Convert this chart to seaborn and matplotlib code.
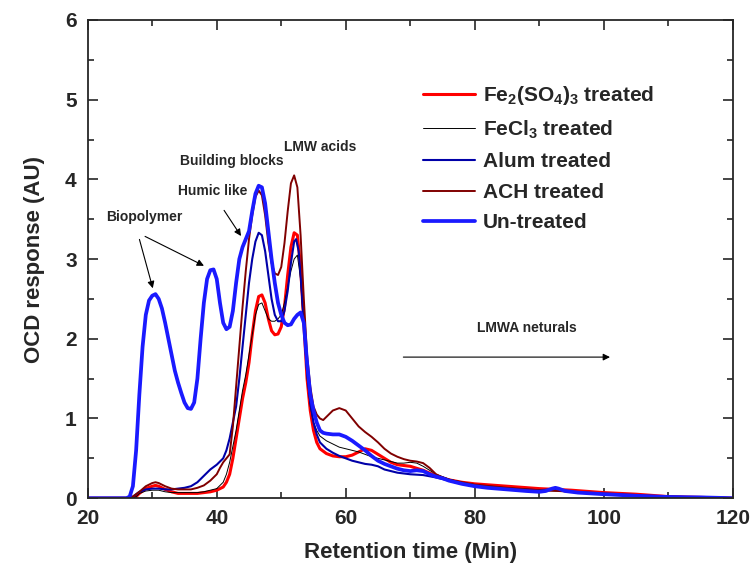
import numpy as np
import pandas as pd
import matplotlib
matplotlib.use("Agg")
import matplotlib.pyplot as plt
import seaborn as sns
from matplotlib.ticker import MultipleLocator

# Retention time (min) / OCD response (AU)
x_fe2 = [20, 27, 27.5, 28, 29, 30, 30.5, 31, 32, 33, 34, 35, 36, 37, 38, 39, 40, 41, 41.5, 42, 42.5, 43, 43.5, 44, 44.5,
         45, 45.5, 46, 46.5, 47, 47.5, 48, 48.5, 49, 49.5, 50, 50.5, 51, 51.5, 52, 52.5, 53, 53.5, 54, 54.5, 55, 55.5,
         56, 57, 58, 59, 60, 61, 62, 63, 64, 65, 66, 67, 68, 70, 72, 74, 76, 78, 80, 85, 90, 95, 100, 105, 110, 115, 120]
y_fe2 = [0, 0, 0.02, 0.06, 0.12, 0.15, 0.16, 0.15, 0.11, 0.08, 0.06, 0.06, 0.06, 0.06, 0.07, 0.08, 0.1, 0.14, 0.2, 0.3,
         0.5, 0.75, 1.0, 1.25, 1.45, 1.7, 2.05, 2.35, 2.53, 2.55, 2.45, 2.25, 2.1, 2.05, 2.06, 2.15, 2.4, 2.8, 3.15, 3.33,
         3.3, 2.9, 2.2, 1.5, 1.1, 0.85, 0.7, 0.62, 0.56, 0.53, 0.52, 0.52, 0.54, 0.58, 0.62, 0.6, 0.55, 0.5, 0.45, 0.42,
         0.4, 0.35, 0.28, 0.23, 0.2, 0.18, 0.15, 0.12, 0.1, 0.07, 0.05, 0.02, 0.01, 0.0]

x_fecl3 = [20, 27, 27.5, 28, 29, 30, 31, 32, 33, 34, 35, 36, 37, 38, 39, 40, 41, 41.5, 42, 42.5, 43, 43.5, 44, 44.5, 45,
           45.5, 46, 46.5, 47, 47.5, 48, 48.5, 49, 49.5, 50, 50.5, 51, 51.5, 52, 52.5, 53, 53.5, 54, 54.5, 55, 55.5, 56,
           57, 58, 59, 60, 61, 62, 63, 64, 65, 66, 67, 68, 69, 70, 71, 72, 74, 76, 78, 80, 85, 90, 95, 100, 105, 110, 120]
y_fecl3 = [0, 0, 0.02, 0.06, 0.09, 0.1, 0.1, 0.08, 0.07, 0.07, 0.07, 0.07, 0.07, 0.08, 0.1, 0.12, 0.2, 0.3, 0.45, 0.65,
           0.85, 1.1, 1.35, 1.55, 1.8, 2.05, 2.3, 2.43, 2.45, 2.35, 2.25, 2.22, 2.22, 2.25, 2.3, 2.45, 2.65, 2.85, 3.0,
           3.05, 2.75, 2.1, 1.5, 1.15, 0.95, 0.85, 0.78, 0.72, 0.68, 0.64, 0.62, 0.6, 0.58, 0.55, 0.52, 0.5, 0.48, 0.46,
           0.44, 0.44, 0.45, 0.44, 0.4, 0.3, 0.24, 0.2, 0.17, 0.13, 0.1, 0.08, 0.05, 0.03, 0.02, 0.0]

x_alum = [20, 26, 27, 28, 29, 30, 31, 32, 33, 34, 35, 36, 37, 38, 39, 40, 41, 41.5, 42, 42.5, 43, 43.5, 44, 44.5, 45,
          45.5, 46, 46.5, 47, 47.5, 48, 48.5, 49, 49.5, 50, 50.5, 51, 51.5, 52, 52.3, 52.7, 53, 53.5, 54, 54.5, 55, 55.5,
          56, 57, 58, 59, 60, 61, 62, 63, 64, 65, 66, 68, 70, 72, 74, 76, 78, 80, 85, 90, 92, 93, 95, 100, 105, 110, 120]
y_alum = [0, 0, 0.02, 0.08, 0.11, 0.12, 0.12, 0.11, 0.11, 0.12, 0.13, 0.15, 0.2, 0.28, 0.36, 0.42, 0.5, 0.6, 0.75, 0.95,
          1.15, 1.5, 1.9, 2.3, 2.7, 3.0, 3.22, 3.33, 3.3, 3.1, 2.8, 2.5, 2.3, 2.22, 2.22, 2.35, 2.6, 2.95, 3.22, 3.25,
          3.1, 2.8, 2.2, 1.6, 1.2, 0.95, 0.8, 0.7, 0.62, 0.57, 0.53, 0.5, 0.47, 0.45, 0.43, 0.42, 0.4, 0.36, 0.32, 0.3,
          0.29, 0.26, 0.22, 0.18, 0.15, 0.12, 0.1, 0.11, 0.11, 0.08, 0.05, 0.03, 0.02, 0.0]

x_ach = [20, 26, 27, 28, 29, 30, 30.5, 31, 32, 33, 34, 35, 36, 37, 38, 39, 40, 40.5, 41, 41.5, 42, 42.5, 43, 43.5, 44,
         44.5, 45, 45.5, 46, 46.5, 47, 47.5, 48, 48.5, 49, 49.5, 50, 50.5, 51, 51.5, 52, 52.5, 53, 53.5, 54, 54.5, 55,
         55.5, 56, 56.5, 57, 58, 59, 60, 61, 62, 63, 64, 65, 66, 67, 68, 69, 70, 71, 72, 73, 74, 75, 76, 78, 80, 85, 90,
         93, 95, 100, 105, 110, 120]
y_ach = [0, 0, 0.02, 0.08, 0.15, 0.19, 0.2, 0.19, 0.15, 0.12, 0.11, 0.11, 0.11, 0.13, 0.16, 0.22, 0.3, 0.38, 0.45, 0.5,
         0.55, 0.9, 1.4, 1.9, 2.4, 2.85, 3.25, 3.55, 3.78, 3.86, 3.8, 3.55, 3.2, 2.95, 2.82, 2.8, 2.9, 3.2, 3.6, 3.95,
         4.05, 3.9, 3.3, 2.5, 1.8, 1.4, 1.15, 1.05, 1.0, 0.98, 1.02, 1.1, 1.13, 1.1, 1.0, 0.9, 0.83, 0.77, 0.7, 0.62,
         0.56, 0.52, 0.49, 0.47, 0.46, 0.44, 0.38, 0.3, 0.26, 0.23, 0.2, 0.17, 0.13, 0.1, 0.09, 0.08, 0.06, 0.04, 0.02, 0.0]

x_raw = [20, 26, 26.5, 27, 27.5, 28, 28.5, 29, 29.5, 30, 30.5, 31, 31.5, 32, 32.5, 33, 33.5, 34, 34.5, 35, 35.5, 36,
         36.5, 37, 37.5, 38, 38.5, 39, 39.5, 40, 40.5, 41, 41.5, 42, 42.5, 43, 43.5, 44, 44.5, 45, 45.5, 46, 46.5, 47,
         47.5, 48, 48.5, 49, 49.5, 50, 50.5, 51, 51.5, 52, 52.5, 53, 53.5, 54, 54.5, 55, 55.5, 56, 56.5, 57, 58, 59, 60,
         61, 62, 63, 64, 65, 66, 67, 68, 69, 70, 71, 72, 73, 74, 75, 76, 78, 80, 82, 85, 88, 90, 91, 92, 92.5, 93, 94,
         96, 100, 105, 110, 115, 120]
y_raw = [0, 0, 0.02, 0.15, 0.6, 1.3, 1.9, 2.3, 2.48, 2.54, 2.56, 2.5, 2.38, 2.2, 2.0, 1.8, 1.6, 1.45, 1.32, 1.2, 1.13,
         1.12, 1.2, 1.5, 2.0, 2.45, 2.75, 2.86, 2.87, 2.75, 2.45, 2.2, 2.12, 2.15, 2.35, 2.7, 3.0, 3.15, 3.25, 3.35,
         3.6, 3.82, 3.92, 3.9, 3.7, 3.35, 3.0, 2.7, 2.45, 2.3, 2.2, 2.17, 2.18, 2.25, 2.3, 2.33, 2.2, 1.7, 1.3, 1.1,
         0.95, 0.85, 0.82, 0.81, 0.8, 0.8, 0.77, 0.72, 0.66, 0.6, 0.53, 0.47, 0.43, 0.4, 0.37, 0.35, 0.34, 0.35, 0.34,
         0.3, 0.27, 0.25, 0.22, 0.18, 0.15, 0.13, 0.11, 0.09, 0.08, 0.09, 0.12, 0.13, 0.12, 0.09, 0.07, 0.05, 0.03,
         0.015, 0.01, 0.0]

labels = [r'Fe$_2$(SO$_4$)$_3$ treated', r'FeCl$_3$ treated', 'Alum treated', 'ACH treated', 'Un-treated']

sns.set_style("ticks")
plt.rcParams['font.family'] = ['Liberation Sans', 'DejaVu Sans']
plt.rcParams['font.weight'] = 'bold'
plt.rcParams['axes.labelweight'] = 'bold'
plt.rcParams['mathtext.fontset'] = 'custom'
plt.rcParams['mathtext.rm'] = 'Liberation Sans:bold'
plt.rcParams['mathtext.it'] = 'Liberation Sans:bold'
plt.rcParams['mathtext.default'] = 'rm'

fig, ax = plt.subplots(figsize=(7.5, 5.7), dpi=100)
fig.subplots_adjust(left=0.117, right=0.977, bottom=0.126, top=0.965)

series = [(x_fe2, y_fe2, '#ff0000', 2.2),
          (x_fecl3, y_fecl3, '#000000', 0.7),
          (x_alum, y_alum, '#0000a8', 1.5),
          (x_ach, y_ach, '#800000', 1.4),
          (x_raw, y_raw, '#1a1aff', 2.7)]
for (xs, ys, c, lw), lab in zip(series, labels):
    sns.lineplot(x=xs, y=ys, ax=ax, color=c, lw=lw, label=lab, sort=False)

ax.set_xlim(20, 120)
ax.set_ylim(0, 6)
ax.xaxis.set_major_locator(MultipleLocator(20))
ax.xaxis.set_minor_locator(MultipleLocator(10))
ax.yaxis.set_major_locator(MultipleLocator(1))
ax.yaxis.set_minor_locator(MultipleLocator(0.5))
ax.tick_params(which='both', direction='in', top=True, right=True, width=1.2, labelsize=15)
ax.tick_params(which='major', length=7, pad=8)
ax.tick_params(which='minor', length=4)
for s in ax.spines.values():
    s.set_linewidth(1.3)
ax.set_xlabel('Retention time (Min)', fontsize=16, labelpad=10)
ax.set_ylabel('OCD response (AU)', fontsize=16, labelpad=14)

# peak annotations
ax.text(28.8, 3.53, 'Biopolymer', fontsize=10, ha='center', va='center')
ax.annotate('', xy=(30.2, 2.6), xytext=(27.9, 3.28),
            arrowprops=dict(arrowstyle='-|>', color='black', lw=0.8))
ax.annotate('', xy=(38.4, 2.9), xytext=(28.5, 3.3),
            arrowprops=dict(arrowstyle='-|>', color='black', lw=0.8))
ax.text(39.4, 3.85, 'Humic like', fontsize=10, ha='center', va='center')
ax.annotate('', xy=(44.0, 3.26), xytext=(40.9, 3.64),
            arrowprops=dict(arrowstyle='-|>', color='black', lw=0.8))
ax.text(42.3, 4.23, 'Building blocks', fontsize=10, ha='center', va='center')
ax.text(56.1, 4.4, 'LMW acids', fontsize=10, ha='center', va='center')
ax.text(88.1, 2.13, 'LMWA neturals', fontsize=10, ha='center', va='center')
ax.annotate('', xy=(101.4, 1.77), xytext=(68.5, 1.77),
            arrowprops=dict(arrowstyle='-|>', color='black', lw=0.8))

leg = ax.legend(loc='upper left', bbox_to_anchor=(0.49, 0.905), frameon=False, fontsize=15,
                handlelength=2.5, labelspacing=0.55, handletextpad=0.4)

fig.savefig('out.png', dpi=100)
